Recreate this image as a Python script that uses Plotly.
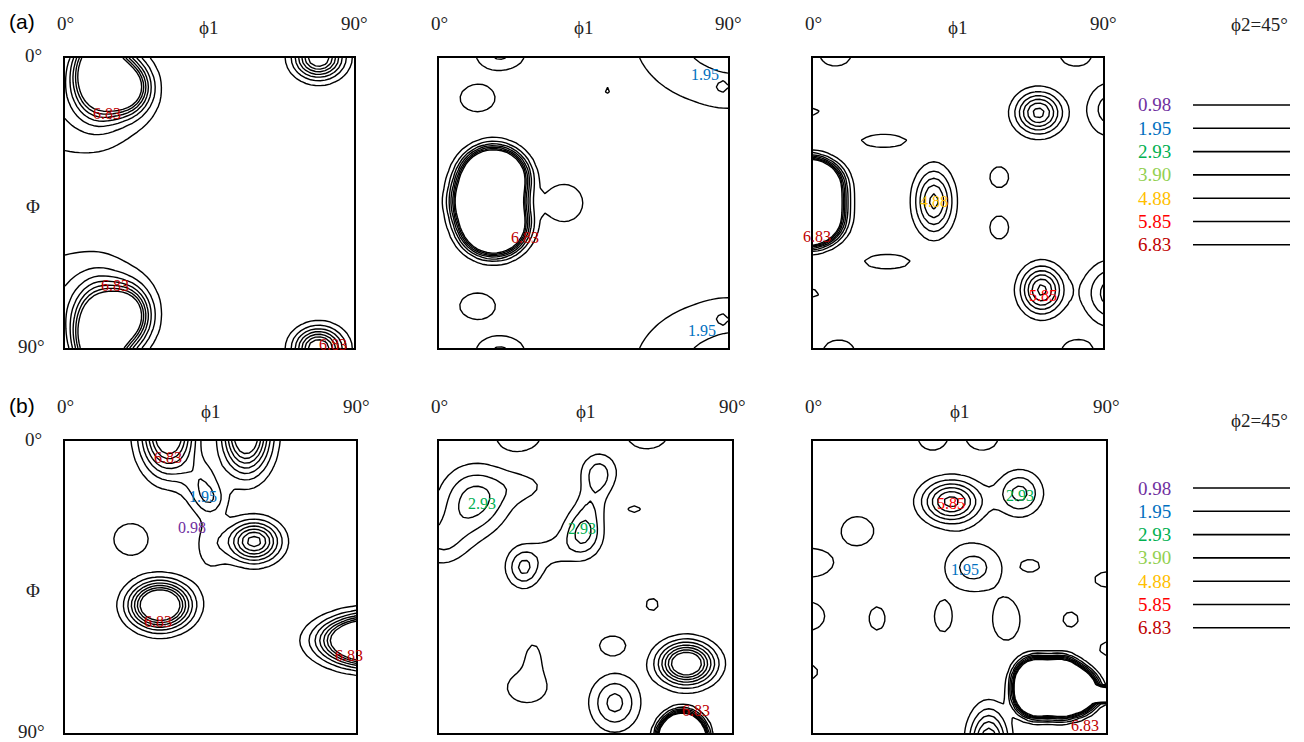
import numpy as np
import plotly.graph_objects as go

W, H = 1304, 742

# ODF iso-levels and their label colours
LEVELS = [0.98, 1.95, 2.93, 3.90, 4.88, 5.85, 6.83]
LEVEL_COLORS = ["#7030A0", "#0070C0", "#00B050", "#92D050", "#FFC000", "#FF0000", "#C00000"]

# texture components per section: (phi1, Phi, intensity, spread_phi1, spread_Phi), degrees
PEAKS_A1 = [
    (11, 5, 14, 5, 7.5), (19, 9, 10, 4.5, 5), (4, 14, 1.9, 16, 13),
    (11, 86, 14, 5, 8.5), (19, 80, 10, 4.5, 5.5), (4, 76, 1.9, 16, 13),
    (79, 0, 8.4, 5, 4.1), (79, 90, 8.4, 5, 4.1),
]
PEAKS_A2 = [
    (17, 37, 40, 5, 4.5), (15, 44.5, 40, 5, 4.5), (17, 52, 40, 5, 4.5),
    (39, 45, 1.9, 5, 5),
    (12, 12.5, 1.9, 4.7, 3.6), (12, 77, 1.9, 4.8, 3.5),
    (19, -1, 2.1, 6, 3.8), (19, 91, 2.1, 6, 3.8),
    (92, -7, 2.5, 22.7, 16.3), (92, 97, 2.5, 22.7, 16.3),
    (88, 10, 0.6, 3, 2.2), (88, 80, 0.6, 3, 2.2),
    (70, -1, 0.6, 2, 1.5), (70, 91, 0.6, 2, 1.5),
    (52.3, 10, 1.05, 1, 1),
]
PEAKS_A3 = [
    (-2, 38, 40, 5, 3.5), (-2, 42.5, 40, 5, 3.5), (-2, 47, 40, 5, 3.5), (-2, 51.5, 40, 5, 3.5),
    (37.5, 44.5, 5.2, 4, 6.7),
    (70, 17, 6.3, 4.8, 4.3), (71, 72, 6.2, 4.4, 4.9),
    (92, 16, 2.5, 5, 6), (93, 73, 3.6, 6, 6.5),
    (7, -1, 1.9, 4.2, 3), (81.5, -1, 1.9, 4.2, 3),
    (8, 91, 1.9, 4.2, 3), (82, 91, 1.9, 4.2, 3),
    (-0.5, 16.7, 1.5, 2.6, 1.3), (-0.5, 73, 1.5, 2.6, 1.3),
    (22, 25.7, 1.9, 6.1, 1.7), (23, 63.2, 1.9, 6.1, 1.9),
    (57.8, 37, 1.9, 2.5, 2.8), (57.8, 52.6, 1.9, 2.5, 3.1),
    (26, 9.7, 1.1, 1.5, 0.6), (50, 18.5, 1.1, 1, 1),
]
PEAKS_B1 = [
    (32, -2, 9, 5.5, 8), (56, -2, 9, 5, 8),
    (42, 12, 2.2, 4, 5), (45, 18, 2.1, 3.5, 3.5), (45, 32, 1.4, 4, 7),
    (58.5, 31, 7.4, 5.3, 4.2),
    (20.4, 30.3, 1.9, 4.6, 4.2),
    (29.4, 50.6, 11.6, 6, 4.6),
    (96, 61.5, 20, 9.5, 4.5),
]
PEAKS_B2 = [
    (11, 18, 3.3, 7, 7), (0, 32, 1.3, 5, 5), (4, 28, 1.1, 6, 6), (26, 14, 1.1, 7, 4),
    (44.3, 28.5, 3.3, 4, 5), (49, 11, 2.2, 3.5, 4.5), (50, 8, 0.5, 6, 4), (46.5, 20, 1.2, 3, 4),
    (60, 21, 1.1, 4, 2.5),
    (26, 39, 3.2, 3.6, 4.2), (35, 34, 1.2, 5, 4),
    (24.5, -2, 2.1, 5.5, 4), (64, -2, 2.1, 5, 3.5),
    (80, 36.7, 1.1, 0.6, 0.6),
    (65.5, 50.4, 1.9, 1.6, 1.6), (53.3, 63, 1.9, 3.4, 2.5),
    (27, 76, 1.5, 6.5, 5), (29, 66, 1.2, 2.5, 4.5),
    (76, 68.6, 9.6, 5.6, 4.25),
    (74.7, 92, 100, 3.15, 3.5),
    (54, 80.7, 3.3, 5.1, 5.8),
]
PEAKS_B3 = [
    (42.5, 18.7, 6.3, 6, 4.4), (63.5, 16.1, 3.3, 4.7, 4.7), (49.2, 39, 2.4, 6.5, 5.5),
    (36.7, -1, 1.9, 3.8, 3.3), (52, -1, 1.9, 4.2, 3.3),
    (13.7, 27.7, 1.9, 4.3, 3.8), (-1, 37.5, 1.9, 6.3, 3.8), (-1.5, 54, 1.9, 4.4, 3.8),
    (19.7, 54.7, 1.9, 2.1, 3.1), (40, 54.2, 1.9, 2.3, 4), (59.4, 55.2, 1.9, 3.6, 5.4),
    (66.8, 38.5, 1.9, 2.4, 1.6), (79.1, 55, 1.9, 2, 2), (90, 42.7, 1.9, 3, 2),
    (90.5, 64, 1.9, 2.1, 1.8), (-0.5, 71.2, 1.9, 1.7, 1.8),
    (68.5, 73.5, 40, 3.2, 3.2), (68.5, 78.5, 40, 3.2, 3.2),
    (76, 73.5, 40, 3.2, 3.2), (76, 78.5, 40, 3.2, 3.2),
    (81, 77, 40, 3.2, 3.2), (90, 78.2, 40, 4, 1.0),
    (54, 93, 6, 4, 7),
]

# level labels written on the contours: (phi1, Phi, level)
LABELS_A1 = [(13.1, 17.1, 6.83), (15.6, 70.5, 6.83), (83.5, 88.8, 6.83)]
LABELS_A2 = [(82.9, 5.0, 1.95), (26.8, 55.7, 6.83), (81.8, 84.5, 1.95)]
LABELS_A3 = [(37.4, 44.6, 4.88), (1.1, 55.5, 6.83), (71.5, 73.6, 5.85), (91.7, 73.6, 2.93)]
LABELS_B1 = [(32.0, 5.0, 6.83), (42.8, 17.2, 1.95), (39.2, 26.8, 0.98), (28.9, 55.5, 6.83), (87.7, 66.0, 6.83)]
LABELS_B2 = [(13.1, 19.2, 2.93), (43.8, 26.9, 2.93), (79.0, 83.0, 6.83)]
LABELS_B3 = [(42.5, 19.2, 5.85), (63.5, 16.7, 2.93), (46.6, 39.6, 1.95), (83.4, 87.7, 6.83)]

SECTIONS = [PEAKS_A1, PEAKS_A2, PEAKS_A3, PEAKS_B1, PEAKS_B2, PEAKS_B3]
SECTION_LABELS = [LABELS_A1, LABELS_A2, LABELS_A3, LABELS_B1, LABELS_B2, LABELS_B3]

# panel frames in page pixels: left, top, right, bottom
FRAMES = [
    (65, 58, 354, 348), (439, 58, 728, 348), (813, 58, 1103, 348),
    (65, 441, 356, 733), (439, 441, 732, 733), (813, 441, 1106, 733),
]

SERIF = "Liberation Serif"
PHI = "\u03d5"
grid = np.linspace(0, 90, 61)
PX, PY = np.meshgrid(grid, grid)


def density(peaks):
    z = np.zeros_like(PX)
    for cx, cy, amp, sx, sy in peaks:
        z += amp * np.exp(-((PX - cx) ** 2) / (2 * sx ** 2) - ((PY - cy) ** 2) / (2 * sy ** 2))
    return z


fig = go.Figure()
annotations = []
shapes = []

step = (LEVELS[-1] - LEVELS[0]) / (len(LEVELS) - 1)


def page_text(px, py, text, size=19, anchor="center", color="#222222", family=SERIF):
    annotations.append(dict(
        x=px / W, y=1 - py / H, xref="paper", yref="paper", text=text, showarrow=False,
        font=dict(family=family, size=size, color=color),
        xanchor=anchor, yanchor="middle",
    ))


for i, (peaks, labels, (l, t, r, b)) in enumerate(zip(SECTIONS, SECTION_LABELS, FRAMES), start=1):
    xa, ya = f"x{i}", f"y{i}"
    fig.add_trace(go.Contour(
        x=grid, y=grid, z=density(peaks), xaxis=xa, yaxis=ya,
        contours=dict(start=LEVELS[0], end=LEVELS[-1] + 1e-3, size=step, coloring="none"),
        line=dict(color="black", width=1.4, smoothing=0),
        showscale=False, hoverinfo="skip",
    ))
    common = dict(showline=True, mirror=True, linecolor="black", linewidth=1.6,
                  showticklabels=False, ticks="", showgrid=False, zeroline=False)
    fig.layout[f"xaxis{i}"] = dict(domain=[l / W, r / W], range=[0, 90], anchor=ya, **common)
    fig.layout[f"yaxis{i}"] = dict(domain=[1 - b / H, 1 - t / H], range=[90, 0], anchor=xa, **common)

    for lx, ly, lv in labels:
        annotations.append(dict(
            x=lx, y=ly, xref=xa, yref=ya, text=f"{lv:.2f}", showarrow=False,
            font=dict(family=SERIF, size=16, color=LEVEL_COLORS[LEVELS.index(lv)]),
            xanchor="center", yanchor="middle",
        ))

    page_text(l, t - 35, "0°")
    page_text(r, t - 35, "90°")
    page_text((l + r) / 2, t - 30, PHI + "1")
    if i in (1, 4):
        page_text(33, t - 2, "0°")
        page_text(33, (t + b) / 2 + 3, "Φ")
        page_text(31, b - 2, "90°")

# panel row tags
for tag, py in (("(a)", 22), ("(b)", 405)):
    page_text(22, py, tag, size=21, color="black", family="Liberation Sans")

# level keys beside each row
for title_y, first_y in ((25, 105), (420, 488)):
    page_text(1290, title_y, PHI + "2=45°", anchor="right")
    for k, (lv, col) in enumerate(zip(LEVELS, LEVEL_COLORS)):
        yy = first_y + k * 23.3
        page_text(1173, yy, f"{lv:.2f}", anchor="right", color=col)
        shapes.append(dict(
            type="line", xref="paper", yref="paper",
            x0=1193 / W, x1=1290 / W, y0=1 - yy / H, y1=1 - yy / H,
            line=dict(color="black", width=1.6),
        ))

fig.update_layout(
    width=W, height=H, margin=dict(l=0, r=0, t=0, b=0),
    paper_bgcolor="white", plot_bgcolor="white", showlegend=False,
    annotations=annotations, shapes=shapes,
)

fig.write_html("out.html")
